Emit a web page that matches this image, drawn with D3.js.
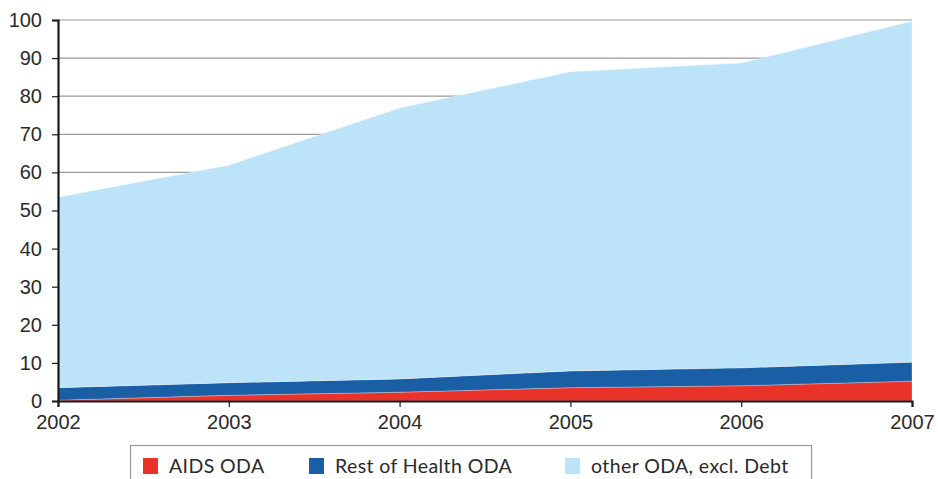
<!DOCTYPE html>
<html>
<head>
<meta charset="utf-8">
<script src="https://d3js.org/d3.v7.min.js"></script>
<style>
  body { margin: 0; background: #fff; }
  svg { display: block; font-family: Lato, "Open Sans", sans-serif; }
</style>
</head>
<body>
<div id="chart"></div>
<script>
const years = [2002, 2003, 2004, 2005, 2006, 2007];
const aidsOda = [0.2, 1.5, 2.3, 3.5, 4.0, 5.2];
const restHealthOda = [3.3, 3.3, 3.5, 4.4, 4.7, 5.0];
const otherOda = [50.0, 57.1, 71.1, 78.5, 80.0, 89.5];
const seriesNames = ["AIDS ODA", "Rest of Health ODA", "other ODA, excl. Debt"];
const seriesColors = ["#e8322a", "#1a5fa5", "#bde3f8"];
const yTicks = [0, 10, 20, 30, 40, 50, 60, 70, 80, 90, 100];

const width = 938, height = 479;
const margin = {top: 20, right: 26, bottom: 78, left: 58};

const svg = d3.select("#chart").append("svg")
    .attr("width", width)
    .attr("height", height);

const x = d3.scaleLinear()
    .domain([2002, 2007])
    .range([margin.left, width - margin.right]);

const y = d3.scaleLinear()
    .domain([0, 100])
    .range([height - margin.bottom, margin.top]);

// gridlines
svg.append("g")
    .selectAll("line")
    .data(yTicks.filter(d => d > 0))
    .join("line")
    .attr("x1", margin.left)
    .attr("x2", width - margin.right)
    .attr("y1", d => y(d))
    .attr("y2", d => y(d))
    .attr("stroke", "#9a9a9a")
    .attr("stroke-width", 1.2);

// stacked areas
const rows = years.map((yr, i) => ({year: yr, a: aidsOda[i], b: restHealthOda[i], c: otherOda[i]}));
const stack = d3.stack().keys(["a", "b", "c"]);
const layers = stack(rows);

const area = d3.area()
    .x(d => x(d.data.year))
    .y0(d => y(d[0]))
    .y1(d => y(d[1]));

svg.append("g")
    .selectAll("path")
    .data(layers)
    .join("path")
    .attr("d", area)
    .attr("fill", (d, i) => seriesColors[i])
    .attr("stroke", "rgba(255,255,255,0.35)")
    .attr("stroke-width", 0.8);

// y axis
const yAxis = svg.append("g")
    .attr("transform", "translate(" + margin.left + ",0)")
    .call(d3.axisLeft(y).tickValues(yTicks).tickSize(6).tickPadding(10));
yAxis.select(".domain").attr("stroke", "#1a1a1a").attr("stroke-width", 2.2);
yAxis.selectAll(".tick line").attr("stroke", "#1a1a1a").attr("stroke-width", 1.2);
yAxis.selectAll("text").attr("font-size", 20).attr("fill", "#2a2a2a");

// x axis
const xAxis = svg.append("g")
    .attr("transform", "translate(0," + y(0) + ")")
    .call(d3.axisBottom(x).tickValues(years).tickFormat(d3.format("d")).tickSize(6).tickPadding(8));
xAxis.select(".domain").attr("stroke", "#1a1a1a").attr("stroke-width", 2.2);
xAxis.selectAll(".tick line").attr("stroke", "#1a1a1a").attr("stroke-width", 1.2);
xAxis.selectAll("text").attr("font-size", 20).attr("fill", "#2a2a2a");

// legend
const legend = svg.append("g");
legend.append("rect")
    .attr("x", 130.5)
    .attr("y", 445.5)
    .attr("width", 681)
    .attr("height", 40)
    .attr("fill", "#fff")
    .attr("stroke", "#9a9a9a")
    .attr("stroke-width", 1.2);

const legendX = [143, 309, 565];
const items = legend.selectAll("g.item")
    .data(seriesNames)
    .join("g")
    .attr("class", "item")
    .attr("transform", (d, i) => "translate(" + legendX[i] + ",458)");
items.append("rect")
    .attr("width", 15)
    .attr("height", 16)
    .attr("fill", (d, i) => seriesColors[i]);
items.append("text")
    .attr("x", 26)
    .attr("y", 15)
    .attr("font-size", 19.5)
    .attr("letter-spacing", 0.4)
    .attr("fill", "#2a2a2a")
    .text(d => d);
</script>
</body>
</html>
